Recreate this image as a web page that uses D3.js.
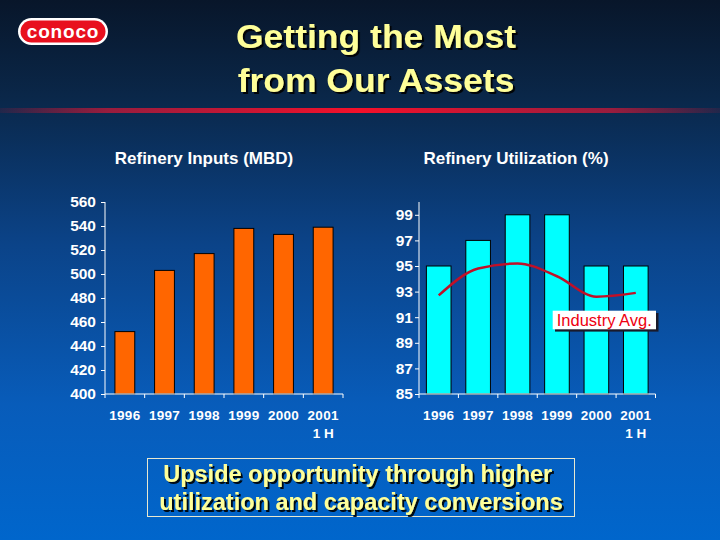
<!DOCTYPE html>
<html>
<head>
<meta charset="utf-8">
<script src="https://cdn.jsdelivr.net/npm/d3@7/dist/d3.min.js"></script>
<style>
  html, body { margin: 0; padding: 0; background: #0a2a52; }
  svg { display: block; }
  text { font-family: "Liberation Sans", Arial, sans-serif; }
</style>
</head>
<body>
<svg id="chart" width="720" height="540"></svg>
<script>
// ---- data ----
const years = ["1996", "1997", "1998", "1999", "2000", "2001"];
const yearSubLabels = ["", "", "", "", "", "1 H"];
const refineryInputs = [452, 503, 517, 538, 533, 539];
const inputTicks = [400, 420, 440, 460, 480, 500, 520, 540, 560];
const utilization = [95, 97, 99, 99, 95, 95];
const industryAvg = [92.7, 94.8, 95.2, 94.2, 92.6, 92.9];
const utilTicks = [85, 87, 89, 91, 93, 95, 97, 99];

const titleLines = ["Getting the Most", "from Our Assets"];
const bottomLines = ["Upside opportunity through higher ", "utilization and capacity conversions"];

const svg = d3.select("#chart");
const defs = svg.append("defs");

// background gradient
const bg = defs.append("linearGradient").attr("id", "bg").attr("x1", 0).attr("y1", 0).attr("x2", 0).attr("y2", 1);
[[0, "#08162a"], [0.18, "#0a2749"], [0.45, "#0b4388"], [0.75, "#085cba"], [1, "#0066cc"]]
  .forEach(([o, c]) => bg.append("stop").attr("offset", o).attr("stop-color", c));
svg.append("rect").attr("width", 720).attr("height", 540).attr("fill", "url(#bg)");

// red rule
const rg = defs.append("linearGradient").attr("id", "rule").attr("x1", 0).attr("x2", 1).attr("y1", 0).attr("y2", 0);
[[0, "#e8102a", 0.1], [0.15, "#c81838", 0.75], [0.5, "#f5102a", 1], [0.85, "#c81838", 0.75], [1, "#e8102a", 0.1]]
  .forEach(([o, c, a]) => rg.append("stop").attr("offset", o).attr("stop-color", c).attr("stop-opacity", a));
svg.append("rect").attr("x", 0).attr("y", 108).attr("width", 720).attr("height", 5).attr("fill", "url(#rule)");

// shadow filter for text
const sh = defs.append("filter").attr("id", "tshadow").attr("x", "-10%").attr("y", "-10%").attr("width", "120%").attr("height", "140%");
sh.append("feDropShadow").attr("dx", 2).attr("dy", 2).attr("stdDeviation", 0.4).attr("flood-color", "#000").attr("flood-opacity", 0.9);

// logo
svg.append("rect").attr("x", 18).attr("y", 18).attr("width", 90).attr("height", 27).attr("rx", 13.5)
  .attr("fill", "#ffffff");
svg.append("rect").attr("x", 20.5).attr("y", 20.5).attr("width", 85).attr("height", 22).attr("rx", 11)
  .attr("fill", "#e8101e");
svg.append("text").attr("x", 63).attr("y", 38).attr("text-anchor", "middle")
  .attr("font-size", 19).attr("font-weight", "bold").attr("fill", "#fff").attr("letter-spacing", 0.8)
  .text("conoco");

// title
const title = svg.append("g").attr("transform", "translate(376,0) scale(1.06,1)");
title.selectAll("text").data(titleLines).join("text")
  .attr("x", 0).attr("y", (d, i) => 48 + i * 44)
  .attr("text-anchor", "middle").attr("font-size", 33.5).attr("font-weight", "bold")
  .attr("fill", "#ffff99").attr("filter", "url(#tshadow)")
  .text(d => d);

// ---- chart helper ----
function drawChart(opts) {
  const g = svg.append("g");
  const x = d3.scaleBand().domain(years).range([opts.x0, opts.x1])
    .paddingInner(opts.padInner).paddingOuter(opts.padInner / 2);
  const y = d3.scaleLinear().domain(opts.domain).range([394, 202]);

  // title
  g.append("text").attr("x", opts.titleX).attr("y", 164).attr("text-anchor", "middle")
    .attr("font-size", 17).attr("font-weight", "bold").attr("fill", "#fff").text(opts.title);

  // bars
  g.selectAll("rect.bar").data(opts.values).join("rect").attr("class", "bar")
    .attr("x", (d, i) => x(years[i]))
    .attr("width", x.bandwidth())
    .attr("y", d => y(d))
    .attr("height", d => y(opts.domain[0]) - y(d))
    .attr("fill", opts.color).attr("stroke", "#000").attr("stroke-width", 1);

  // y axis
  const ya = g.append("g").attr("transform", `translate(${opts.x0},0)`)
    .call(d3.axisLeft(y).tickValues(opts.ticks).tickSize(4).tickSizeOuter(0).tickFormat(d3.format("d")));
  ya.select(".domain").remove();
  ya.selectAll(".tick line").attr("stroke", "#fff");
  ya.selectAll(".tick text").attr("fill", "#fff").attr("font-size", 15.5).attr("font-weight", "bold")
    .attr("font-family", "'Liberation Sans', Arial, sans-serif").attr("x", -opts.labelGap);
  g.append("line").attr("x1", opts.x0).attr("x2", opts.x0).attr("y1", y(opts.domain[1])).attr("y2", y(opts.domain[0]))
    .attr("stroke", "#fff");

  // x axis
  g.append("line").attr("x1", opts.x0).attr("x2", opts.x1).attr("y1", 394).attr("y2", 394).attr("stroke", "#fff");
  const bounds = years.map((d, i) => opts.x0 + i * x.step()).concat([opts.x1]);
  g.selectAll("line.xt").data(bounds).join("line").attr("class", "xt")
    .attr("x1", d => d).attr("x2", d => d).attr("y1", 394).attr("y2", 398).attr("stroke", "#fff");
  g.selectAll("text.xl").data(years).join("text").attr("class", "xl")
    .attr("x", d => x(d) + x.bandwidth() / 2).attr("y", 420)
    .attr("text-anchor", "middle").attr("font-size", 13.5).attr("font-weight", "bold").attr("fill", "#fff")
    .attr("letter-spacing", 0.3).text(d => d);
  g.selectAll("text.xs").data(yearSubLabels).join("text").attr("class", "xs")
    .attr("x", (d, i) => x(years[i]) + x.bandwidth() / 2).attr("y", 437.5)
    .attr("text-anchor", "middle").attr("font-size", 13.5).attr("font-weight", "bold").attr("fill", "#fff")
    .text(d => d);

  return { g, x, y };
}

drawChart({
  x0: 105, x1: 343, padInner: 0.5, domain: [400, 560], ticks: inputTicks,
  values: refineryInputs, color: "#ff6600", title: "Refinery Inputs (MBD)", titleX: 204, labelGap: 9
});

const right = drawChart({
  x0: 419, x1: 655.5, padInner: 0.375, domain: [85, 100], ticks: utilTicks,
  values: utilization, color: "#00ffff", title: "Refinery Utilization (%)", titleX: 516, labelGap: 6
});

// industry average line
const line = d3.line()
  .x((d, i) => right.x(years[i]) + right.x.bandwidth() / 2)
  .y(d => right.y(d))
  .curve(d3.curveMonotoneX);
right.g.append("path").datum(industryAvg).attr("d", line)
  .attr("fill", "none").attr("stroke", "#c01028").attr("stroke-width", 2.5);

// Industry Avg. label
right.g.append("rect").attr("x", 555).attr("y", 313).attr("width", 103.5).attr("height", 18.6).attr("fill", "#1a1a2a");
right.g.append("rect").attr("x", 552.7).attr("y", 310.7).attr("width", 103.3).attr("height", 18.6).attr("fill", "#ffffff");
right.g.append("text").attr("x", 604.3).attr("y", 325.5).attr("text-anchor", "middle")
  .attr("font-size", 16.5).attr("fill", "#ee0010").text("Industry Avg.");

// bottom box
svg.append("rect").attr("x", 147.5).attr("y", 458.5).attr("width", 427).attr("height", 58)
  .attr("fill", "none").attr("stroke", "#e8e8d0").attr("stroke-width", 1);
svg.selectAll("text.bt").data(bottomLines).join("text").attr("class", "bt")
  .attr("x", 361).attr("y", (d, i) => 481.5 + i * 28)
  .attr("text-anchor", "middle").attr("font-size", 23.5).attr("font-weight", "bold")
  .attr("fill", "#ffff99").attr("filter", "url(#tshadow)")
  .attr("xml:space", "preserve").style("white-space", "pre")
  .text(d => d);
</script>
</body>
</html>
